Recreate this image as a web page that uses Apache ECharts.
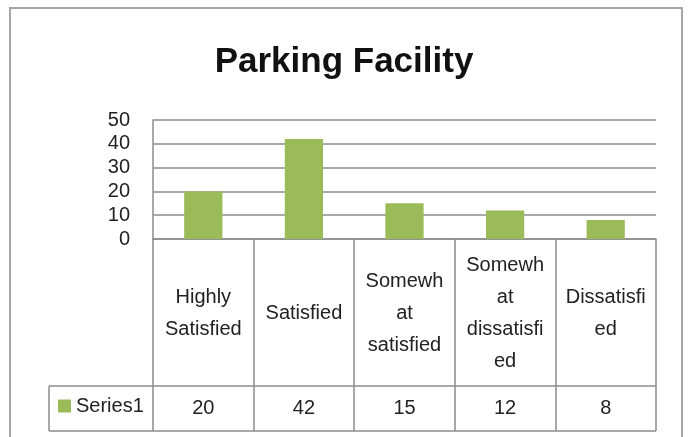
<!DOCTYPE html>
<html>
<head>
<meta charset="utf-8">
<script src="https://cdn.jsdelivr.net/npm/echarts@6/dist/echarts.min.js"></script>
<style>html,body{margin:0;padding:0;background:#fff;}#c{width:688px;height:437px;}</style>
</head>
<body>
<div id="c"></div>
<script>
var titleText = 'Parking Facility';
var seriesName = 'Series1';
var categories = ['Highly\nSatisfied', 'Satisfied', 'Somewh\nat\nsatisfied', 'Somewh\nat\ndissatisfi\ned', 'Dissatisfi\ned'];
var values = [20, 42, 15, 12, 8];
var yTicks = [0, 10, 20, 30, 40, 50];

var FONT = '"Liberation Sans", Arial, sans-serif';
var GRAY = '#8c8c8c';
var chart = echarts.init(document.getElementById('c'), null, {renderer: 'canvas'});
chart.setOption({
  backgroundColor: '#fff',
  animation: false,
  title: {
    text: titleText, left: 'center', top: 40,
    textStyle: {fontFamily: FONT, fontWeight: 'bold', fontSize: 35, color: '#111'}
  },
  legend: {
    data: [seriesName], left: 58, top: 396, padding: 0, icon: 'rect', itemWidth: 13, itemHeight: 13,
    textStyle: {fontFamily: FONT, fontSize: 20, color: '#222'}, selectedMode: false
  },
  grid: {left: 153, right: 32, top: 120, bottom: 198, containLabel: false},
  xAxis: [{
    type: 'category', data: categories,
    axisLine: {show: true, lineStyle: {color: GRAY, width: 1.5}},
    axisTick: {show: true, length: 192, lineStyle: {color: GRAY, width: 1.5}},
    axisLabel: {interval: 0, margin: 74, verticalAlign: 'middle', lineHeight: 32,
      fontFamily: FONT, fontSize: 20, color: '#222'},
    splitLine: {show: false}
  }, {
    type: 'category', data: values.map(String), position: 'bottom',
    axisLine: {show: false}, axisTick: {show: false},
    axisLabel: {interval: 0, margin: 169, verticalAlign: 'middle',
      fontFamily: FONT, fontSize: 20, color: '#222'}
  }],
  yAxis: {
    type: 'value', min: yTicks[0], max: yTicks[yTicks.length - 1], interval: 10,
    axisLine: {show: true, lineStyle: {color: GRAY, width: 1.5}},
    axisTick: {show: false},
    axisLabel: {margin: 23, fontFamily: FONT, fontSize: 20, color: '#222'},
    splitLine: {show: true, lineStyle: {color: GRAY, width: 1.5}}
  },
  series: [{
    name: seriesName, type: 'bar', data: values, barWidth: '38%',
    itemStyle: {color: '#9BBB59'}
  }],
  graphic: [
    {type: 'rect', shape: {x: 10, y: 8, width: 672, height: 450}, style: {fill: 'none', stroke: '#a6a6a6', lineWidth: 2}, silent: true},
    {type: 'line', shape: {x1: 49, y1: 386, x2: 656, y2: 386}, style: {stroke: GRAY, lineWidth: 1.5}},
    {type: 'line', shape: {x1: 49, y1: 431, x2: 656, y2: 431}, style: {stroke: GRAY, lineWidth: 1.5}},
    {type: 'line', shape: {x1: 49, y1: 386, x2: 49, y2: 431}, style: {stroke: GRAY, lineWidth: 1.5}}
  ]
});
</script>
</body>
</html>
